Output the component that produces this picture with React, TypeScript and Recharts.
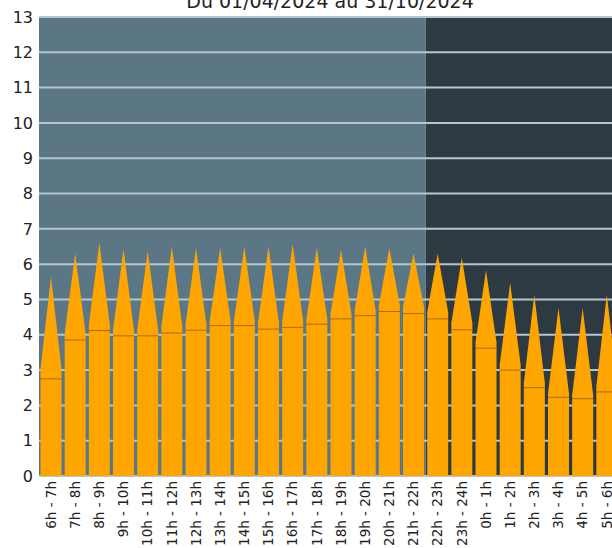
import { BarChart, Bar, XAxis, YAxis, CartesianGrid, ReferenceArea } from 'recharts'

// tranches horaires, de 6h à 6h
const TRANCHES = [
  '6h - 7h', '7h - 8h', '8h - 9h', '9h - 10h', '10h - 11h', '11h - 12h',
  '12h - 13h', '13h - 14h', '14h - 15h', '15h - 16h', '16h - 17h', '17h - 18h',
  '18h - 19h', '19h - 20h', '20h - 21h', '21h - 22h', '22h - 23h', '23h - 24h',
  '0h - 1h', '1h - 2h', '2h - 3h', '3h - 4h', '4h - 5h', '5h - 6h'
]

// valeur max (pointe)
const MAXI = [
  5.64, 6.3, 6.6, 6.43, 6.37, 6.49, 6.46, 6.46, 6.49, 6.5, 6.57, 6.46,
  6.4, 6.5, 6.45, 6.3, 6.3, 6.18, 5.83, 5.47, 5.13, 4.76, 4.76, 5.14
]

// haut du rectangle
const HAUT = [
  3.05, 4.05, 4.3, 4.15, 4.15, 4.25, 4.3, 4.4, 4.4, 4.35, 4.4, 4.45,
  4.6, 4.7, 4.85, 4.8, 4.65, 4.35, 3.8, 3.15, 2.65, 2.35, 2.3, 2.55
]

// moyenne (trait fin)
const MOYENNE = [
  2.75, 3.85, 4.12, 3.97, 3.97, 4.05, 4.13, 4.26, 4.26, 4.16, 4.21, 4.3,
  4.45, 4.54, 4.66, 4.6, 4.45, 4.14, 3.62, 3.0, 2.5, 2.23, 2.19, 2.38
]

const Y_TICKS = [0, 1, 2, 3, 4, 5, 6, 7, 8, 9, 10, 11, 12, 13]

const JOUR = ['6h - 7h', '21h - 22h']
const NUIT = ['22h - 23h', '5h - 6h']

const ORANGE = '#FFA500'

const data = TRANCHES.map((t, i) => ({
  tranche: t,
  base: HAUT[i],
  pointe: MAXI[i] - HAUT[i],
  moyenne: MOYENNE[i]
}))

const BaseShape = (props: any) => {
  const { x, y, width, height, payload } = props
  const k = height / payload.base
  const ym = y + height - payload.moyenne * k
  return (
    <g>
      <rect x={x} y={y} width={width} height={height} fill={ORANGE} />
      <line x1={x} x2={x + width} y1={ym} y2={ym} stroke='#a86a10' strokeWidth={1} />
    </g>
  )
}

const PointeShape = (props: any) => {
  const { x, y, width, height } = props
  const b = y + height + 0.5
  return (
    <polygon
      points={`${x},${b} ${x + width / 2},${y} ${x + width},${b}`}
      fill={ORANGE}
    />
  )
}

const TrancheTick = (props: any) => {
  const { x, y, payload } = props
  return (
    <text
      x={x}
      y={y}
      transform={`rotate(-90, ${x}, ${y})`}
      textAnchor='end'
      dy='0.35em'
      fontSize={13.5}
      fill='#222'
    >
      {payload.value}
    </text>
  )
}

export default function App() {
  return (
    <div
      style={{
        position: 'absolute',
        left: 0,
        top: 0,
        width: 612,
        height: 548,
        overflow: 'hidden',
        background: '#fff',
        fontFamily: 'DejaVu Sans'
      }}
    >
      <div
        style={{
          position: 'absolute',
          top: -8,
          left: 0,
          width: 660,
          textAlign: 'center',
          fontSize: 19,
          lineHeight: '19px',
          color: '#222'
        }}
      >
        Du 01/04/2024 au 31/10/2024
      </div>
      <div style={{ position: 'absolute', left: 0, top: 0 }}>
        <BarChart
          width={630}
          height={548}
          data={data}
          margin={{ top: 17, right: 11, bottom: 0, left: 0 }}
          barCategoryGap={1.5}
        >
          <ReferenceArea
            x1={JOUR[0]}
            x2={JOUR[1]}
            y1={0}
            y2={13}
            fill='#5b7786'
            fillOpacity={1}
            stroke='none'
            zIndex={-200}
          />
          <ReferenceArea
            x1={NUIT[0]}
            x2={NUIT[1]}
            y1={0}
            y2={13}
            fill='#2e3a41'
            fillOpacity={1}
            stroke='none'
            zIndex={-200}
          />
          <CartesianGrid vertical={false} stroke='#b3c7d1' strokeWidth={2} />
          <XAxis
            dataKey='tranche'
            interval={0}
            height={72}
            axisLine={false}
            tickLine={false}
            tickSize={3}
            tickMargin={2}
            tick={<TrancheTick />}
          />
          <YAxis
            domain={[0, 13]}
            ticks={Y_TICKS}
            interval={0}
            width={39}
            axisLine={false}
            tickLine={false}
            tickSize={4}
            tickMargin={2}
            tick={{ fontSize: 16, fill: '#222' }}
          />
          <Bar dataKey='base' stackId='a' shape={<BaseShape />} isAnimationActive={false} />
          <Bar dataKey='pointe' stackId='a' shape={<PointeShape />} isAnimationActive={false} />
        </BarChart>
      </div>
    </div>
  )
}
